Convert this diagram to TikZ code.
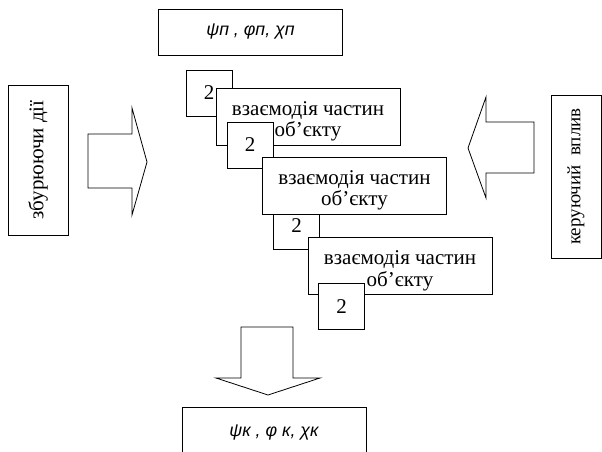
\documentclass[tikz,border=0pt]{standalone}
\usepackage{fontspec}
\setmainfont{Liberation Serif}
\newfontfamily\arialfont{Liberation Sans}
\usepackage{tikz}

\begin{document}
\begin{tikzpicture}[x=1pt, y=-1pt, font=\fontsize{21}{21.5}\selectfont,
		blok/.style={draw, fill=white, line width=0.8pt, inner sep=0pt, align=center},
		kvadr/.style={blok, minimum width=46pt, minimum height=46pt},
		vzaem/.style={blok, minimum width=184pt, minimum height=57pt,
			label={[align=center, yshift=-5pt]center:взаємодія частин\\об’єкту}},
		zminni/.style={blok, minimum width=184pt, minimum height=46pt, font=\arialfont\itshape\fontsize{17.8}{18}\selectfont},
		strilka/.style={draw, fill=white, line width=0.8pt, line join=miter}]
		\useasboundingbox (0,0) rectangle (602,452);
		\clip (0,0) rectangle (602,452);

		\node[zminni] (pochatok) at (250.5,32) {ψп , φп, χп};

		\node[blok, rotate=90, minimum width=150pt, minimum height=60pt] (zburennia) at (38,160) {збурюючи дії};
		\node[blok, rotate=90, minimum width=163pt, minimum height=50pt, font=\fontsize{19}{20}\selectfont] (keruvannia) at (576,176.5) {керуючий \ вплив};

		\draw[strilka] (88,134) -- (132,134) -- (132,108) -- (147,162) -- (132,215) -- (132,188) -- (88,188) -- cycle;
		\draw[strilka] (534,122) -- (486,122) -- (486,97) -- (468,148) -- (486,198) -- (486,173) -- (534,173) -- cycle;

		\node[kvadr] (k1) at (209,93) {2};
		\node[vzaem] (vz1) at (308,116.5) {};
		\node[kvadr] (k2) at (250,145) {2};
		\node[kvadr] (k3) at (296.5,226) {2};
		\node[vzaem] (vz2) at (354.5,185.5) {};
		\node[vzaem] (vz3) at (400,266) {};
		\node[kvadr] (k4) at (341.5,306.5) {2};

		\draw[strilka] (241,327) -- (241,378) -- (216,378) -- (268,395) -- (320,378) -- (293,378) -- (293,327) -- cycle;

		\node[zminni, minimum height=52pt] (kinec) at (274,433) {ψк , φ к, χк};
	\end{tikzpicture}
\end{document}
